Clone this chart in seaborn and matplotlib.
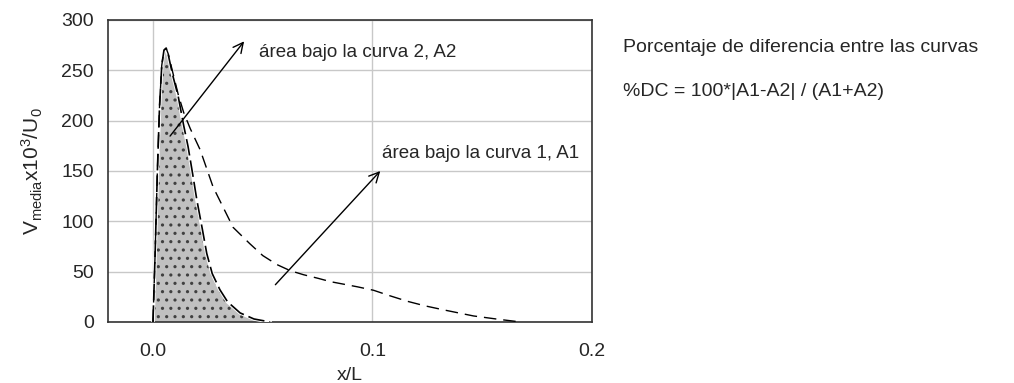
import matplotlib
matplotlib.use("Agg")
import matplotlib.pyplot as plt
import seaborn as sns
import pandas as pd

# curva 1 (A1): perfil ancho, linea de trazos
x1 = [0.000, 0.001, 0.002, 0.003, 0.004, 0.005, 0.006, 0.007, 0.009, 0.0115,
      0.014, 0.017, 0.0215, 0.0274, 0.0365, 0.044, 0.050, 0.0565, 0.0625,
      0.0685, 0.075, 0.081, 0.087, 0.093, 0.1005, 0.108, 0.116, 0.124,
      0.1325, 0.146, 0.158, 0.1676]
y1 = [0, 70, 150, 215, 255, 270, 272, 266, 248, 226,
      208, 192, 171, 134, 94, 78, 66, 57, 51,
      47, 43.5, 40, 37.5, 35, 31.5, 26, 20.5, 16,
      12, 6, 2.5, 0]

# curva 2 (A2): perfil estrecho, area sombreada
x2 = [0.000, 0.001, 0.002, 0.003, 0.004, 0.005, 0.006, 0.007, 0.009, 0.0115,
      0.014, 0.016, 0.018, 0.020, 0.0225, 0.0245, 0.027, 0.0305, 0.034,
      0.0397, 0.046, 0.0534]
y2 = [0, 70, 150, 215, 255, 270, 272, 265, 245, 224,
      195, 174, 148, 121, 92, 68, 48, 32, 20,
      9, 3, 0]

yticks = [0, 50, 100, 150, 200, 250, 300]
xticks = [0.0, 0.1, 0.2]

df1 = pd.DataFrame({'x': x1, 'y': y1})
df2 = pd.DataFrame({'x': x2, 'y': y2})

sns.set_style("whitegrid")
plt.rcParams['font.family'] = ['Liberation Sans', 'DejaVu Sans']
plt.rcParams['mathtext.default'] = 'regular'
plt.rcParams['hatch.linewidth'] = 1.1

fig = plt.figure(figsize=(10.14, 3.83), dpi=100)
ax = fig.add_axes([0.1065, 0.1593, 0.4773, 0.7885])

# area bajo la curva 2
ax.fill_between(df2.x, df2.y, 0, facecolor='#c0c0c0', edgecolor='#404040',
                hatch='..', linewidth=0, zorder=2)
sns.lineplot(data=df2, x='x', y='y', ax=ax, color='white', linewidth=2.5,
             sort=False, zorder=3)
sns.lineplot(data=df2, x='x', y='y', ax=ax, color='black', linewidth=1.2,
             sort=False, zorder=4)
ax.lines[-1].set_dashes([10, 3])

sns.lineplot(data=df1, x='x', y='y', ax=ax, color='black', linewidth=1.0,
             sort=False, zorder=5)
ax.lines[-1].set_dashes([9, 5])

ax.set_xlim(-0.0205, 0.2)
ax.set_ylim(0, 300)
ax.set_xticks(xticks)
ax.set_xticklabels(['0.0', '0.1', '0.2'])
ax.set_yticks(yticks)
ax.tick_params(axis='both', labelsize=14, length=5, width=1, color='#333333',
               direction='out', pad=5)
ax.tick_params(axis='x', pad=10)
ax.grid(True, color='#c8c8c8', linewidth=1)
for s in ax.spines.values():
    s.set_color('#333333')
    s.set_linewidth(1.2)
    s.set_visible(True)

ax.set_xlabel('x/L', fontsize=14, labelpad=5)
ax.set_ylabel(r'V$_{media}$x10$^{3}$/U$_{0}$', fontsize=15, labelpad=12)

# flechas y textos
ax.annotate('', xy=(0.0423, 281), xytext=(0.007, 182.5),
            arrowprops=dict(arrowstyle='->', lw=1, color='black',
                            mutation_scale=18), zorder=6)
ax.annotate('', xy=(0.1044, 152), xytext=(0.0549, 35),
            arrowprops=dict(arrowstyle='->', lw=1, color='black',
                            mutation_scale=18), zorder=6)
ax.text(0.0485, 263.5, 'área bajo la curva 2, A2', fontsize=13.5, va='baseline')
ax.text(0.1044, 163, 'área bajo la curva 1, A1', fontsize=13.5, va='baseline')

fig.text(623 / 1014, 1 - 52 / 383, 'Porcentaje de diferencia entre las curvas',
         fontsize=14, va='baseline')
fig.text(623 / 1014, 1 - 95.5 / 383, '%DC = 100*|A1-A2| / (A1+A2)',
         fontsize=14, va='baseline')

fig.savefig('out.png', dpi=100)
